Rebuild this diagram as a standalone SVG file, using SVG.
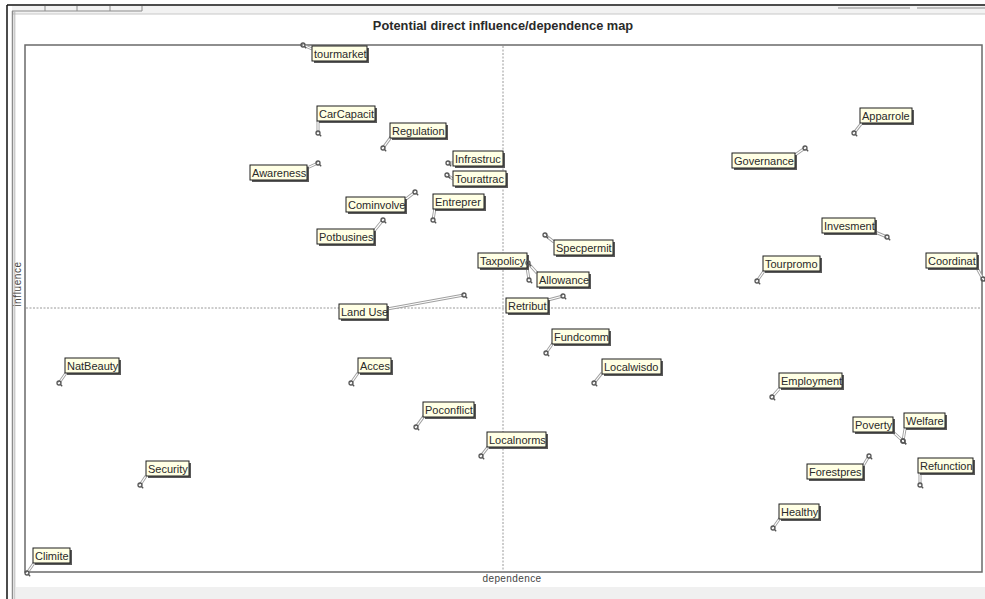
<svg xmlns="http://www.w3.org/2000/svg" xmlns:xlink="http://www.w3.org/1999/xlink" width="985" height="599" viewBox="0 0 985 599">
<style>
.lbl{font-family:"Liberation Sans",Arial,sans-serif;font-size:11px;fill:#2a2a2a}
.box{fill:#ffffe4;stroke:#1e1e1e;stroke-width:1}
.sh{fill:#5a5a5a}
.ld{stroke:#a0a0a0;stroke-width:3;fill:none}
.ldw{stroke:#ffffff;stroke-width:1.2;fill:none}
.ax{stroke:#9a9a9a;stroke-width:1;stroke-dasharray:2,1.5}
.mk{fill:none;stroke:#555;stroke-width:1.3}
</style>
<defs>
<g id="m"><circle cx="0" cy="0" r="2" class="mk"/><line x1="1.5" y1="1.5" x2="3.2" y2="3.2" class="mk"/></g>
</defs>
<rect width="985" height="599" fill="#ffffff"/>
<!-- window chrome -->
<g id="chrome">
<line x1="7" y1="5" x2="985" y2="5" stroke="#111" stroke-width="1.5"/>
<line x1="7" y1="5" x2="7" y2="599" stroke="#111" stroke-width="1.5"/>
<rect x="12" y="6" width="973" height="8" fill="#f2f2f2"/>
<line x1="12" y1="14" x2="985" y2="14" stroke="#c8c8c8" stroke-width="1"/>
<line x1="12" y1="11" x2="142" y2="11" stroke="#8c8c8c" stroke-width="1.2"/>
<line x1="45" y1="6" x2="45" y2="11" stroke="#8c8c8c"/>
<line x1="77" y1="6" x2="77" y2="11" stroke="#8c8c8c"/>
<line x1="110" y1="6" x2="110" y2="11" stroke="#8c8c8c"/>
<line x1="142" y1="6" x2="142" y2="11" stroke="#8c8c8c"/>
<line x1="838" y1="8" x2="910" y2="8" stroke="#8c8c8c" stroke-width="1.2"/>
<line x1="917" y1="8" x2="985" y2="8" stroke="#8c8c8c" stroke-width="1.2"/>
<line x1="12.5" y1="11" x2="12.5" y2="599" stroke="#8c8c8c" stroke-width="1.5"/>
<line x1="14.8" y1="11" x2="14.8" y2="599" stroke="#b5b5b5" stroke-width="1"/>
<rect x="16" y="587" width="969" height="12" fill="#f0f0f0"/>
</g>
<g id="plot">
<rect x="25" y="45" width="957" height="527" fill="#ffffff" stroke="#6a6a6a" stroke-width="1.5"/>
<line x1="503" y1="46" x2="503" y2="571" class="ax"/>
<line x1="26" y1="308" x2="981" y2="308" class="ax"/>
<text x="503" y="30" text-anchor="middle" font-family="'Liberation Sans',Arial,sans-serif" font-size="12.8" font-weight="bold" fill="#2a2a2a">Potential direct influence/dependence map</text>
<text x="512" y="582" text-anchor="middle" font-family="'Liberation Sans',Arial,sans-serif" font-size="10" letter-spacing="0.4" fill="#444">dependence</text>
<text transform="translate(21,284) rotate(-90)" text-anchor="middle" font-family="'Liberation Sans',Arial,sans-serif" font-size="10" letter-spacing="0.6" fill="#444">influence</text>
</g>
<g id="connectors">
<path class="ld" d="M303,45L312,49 M318,133L318,121 M383,148L391,137 M318,163L307,168 M448,163L453,163 M447,175L453,179 M415,192L406,199 M433,220L435,208 M383,220L374,231 M805,148L795,155 M854,133L861,124 M545,235L554,242 M529,280L527,267 M528,263L537,273 M563,296L548,300 M464,295L387,309 M546,353L553,343 M594,383L602,373 M351,383L358,373 M59,383L66,373 M416,427L424,416 M481,456L488,447 M140,485L146,476 M27,573L34,563 M757,281L764,271 M887,237L875,232 M983,279L977,268 M772,397L779,389 M903,441L893,432 M903,441L905,429 M869,456L863,466 M920,485L920,472 M773,528L780,518"/>
<path class="ldw" d="M303,45L312,49 M318,133L318,121 M383,148L391,137 M318,163L307,168 M448,163L453,163 M447,175L453,179 M415,192L406,199 M433,220L435,208 M383,220L374,231 M805,148L795,155 M854,133L861,124 M545,235L554,242 M529,280L527,267 M528,263L537,273 M563,296L548,300 M464,295L387,309 M546,353L553,343 M594,383L602,373 M351,383L358,373 M59,383L66,373 M416,427L424,416 M481,456L488,447 M140,485L146,476 M27,573L34,563 M757,281L764,271 M887,237L875,232 M983,279L977,268 M772,397L779,389 M903,441L893,432 M903,441L905,429 M869,456L863,466 M920,485L920,472 M773,528L780,518"/>
</g>
<g id="n-tourmarket"><use href="#m" x="303" y="45"/><rect class="sh" x="314" y="48" width="55" height="15"/><rect class="box" x="312" y="46" width="55" height="15"/><text class="lbl" x="314" y="57.5">tourmarket</text></g>
<g id="n-carcapacit"><use href="#m" x="318" y="133"/><rect class="sh" x="319" y="108" width="58" height="15"/><rect class="box" x="317" y="106" width="58" height="15"/><text class="lbl" x="319" y="117.5">CarCapacit</text></g>
<g id="n-regulation"><use href="#m" x="383" y="148"/><rect class="sh" x="392" y="125" width="56" height="15"/><rect class="box" x="390" y="123" width="56" height="15"/><text class="lbl" x="392" y="134.5">Regulation</text></g>
<g id="n-awareness"><use href="#m" x="318" y="163"/><rect class="sh" x="252" y="167" width="57" height="15"/><rect class="box" x="250" y="165" width="57" height="15"/><text class="lbl" x="252" y="176.5">Awareness</text></g>
<g id="n-infrastruc"><use href="#m" x="448" y="163"/><rect class="sh" x="455" y="153" width="50" height="15"/><rect class="box" x="453" y="151" width="50" height="15"/><text class="lbl" x="455" y="162.5">Infrastruc</text></g>
<g id="n-tourattrac"><use href="#m" x="447" y="175"/><rect class="sh" x="455" y="173" width="53" height="15"/><rect class="box" x="453" y="171" width="53" height="15"/><text class="lbl" x="455" y="182.5">Tourattrac</text></g>
<g id="n-cominvolve"><use href="#m" x="415" y="192"/><rect class="sh" x="348" y="199" width="59" height="15"/><rect class="box" x="346" y="197" width="59" height="15"/><text class="lbl" x="348" y="208.5">Cominvolve</text></g>
<g id="n-entreprer"><use href="#m" x="433" y="220"/><rect class="sh" x="435" y="196" width="51" height="15"/><rect class="box" x="433" y="194" width="51" height="15"/><text class="lbl" x="435" y="205.5">Entreprer</text></g>
<g id="n-potbusines"><use href="#m" x="383" y="220"/><rect class="sh" x="319" y="231" width="57" height="15"/><rect class="box" x="317" y="229" width="57" height="15"/><text class="lbl" x="319" y="240.5">Potbusines</text></g>
<g id="n-governance"><use href="#m" x="805" y="148"/><rect class="sh" x="734" y="155" width="63" height="15"/><rect class="box" x="732" y="153" width="63" height="15"/><text class="lbl" x="734" y="164.5">Governance</text></g>
<g id="n-apparrole"><use href="#m" x="854" y="133"/><rect class="sh" x="862" y="110" width="52" height="15"/><rect class="box" x="860" y="108" width="52" height="15"/><text class="lbl" x="862" y="119.5">Apparrole</text></g>
<g id="n-specpermit"><use href="#m" x="545" y="235"/><rect class="sh" x="556" y="242" width="59" height="15"/><rect class="box" x="554" y="240" width="59" height="15"/><text class="lbl" x="556" y="251.5">Specpermit</text></g>
<g id="n-taxpolicy"><use href="#m" x="529" y="280"/><rect class="sh" x="480" y="255" width="49" height="15"/><rect class="box" x="478" y="253" width="49" height="15"/><text class="lbl" x="480" y="264.5">Taxpolicy</text></g>
<g id="n-allowance"><use href="#m" x="528" y="263"/><rect class="sh" x="539" y="274" width="52" height="15"/><rect class="box" x="537" y="272" width="52" height="15"/><text class="lbl" x="539" y="283.5">Allowance</text></g>
<g id="n-retribut"><use href="#m" x="563" y="296"/><rect class="sh" x="508" y="300" width="42" height="15"/><rect class="box" x="506" y="298" width="42" height="15"/><text class="lbl" x="508" y="309.5">Retribut</text></g>
<g id="n-landuse"><use href="#m" x="464" y="295"/><rect class="sh" x="341" y="306" width="48" height="15"/><rect class="box" x="339" y="304" width="48" height="15"/><text class="lbl" x="341" y="315.5">Land Use</text></g>
<g id="n-fundcomm"><use href="#m" x="546" y="353"/><rect class="sh" x="554" y="331" width="57" height="15"/><rect class="box" x="552" y="329" width="57" height="15"/><text class="lbl" x="554" y="340.5">Fundcomm</text></g>
<g id="n-localwisdo"><use href="#m" x="594" y="383"/><rect class="sh" x="604" y="361" width="59" height="15"/><rect class="box" x="602" y="359" width="59" height="15"/><text class="lbl" x="604" y="370.5">Localwisdo</text></g>
<g id="n-acces"><use href="#m" x="351" y="383"/><rect class="sh" x="360" y="360" width="33" height="15"/><rect class="box" x="358" y="358" width="33" height="15"/><text class="lbl" x="360" y="369.5">Acces</text></g>
<g id="n-natbeauty"><use href="#m" x="59" y="383"/><rect class="sh" x="67" y="360" width="54" height="15"/><rect class="box" x="65" y="358" width="54" height="15"/><text class="lbl" x="67" y="369.5">NatBeauty</text></g>
<g id="n-poconflict"><use href="#m" x="416" y="427"/><rect class="sh" x="425" y="404" width="51" height="15"/><rect class="box" x="423" y="402" width="51" height="15"/><text class="lbl" x="425" y="413.5">Poconflict</text></g>
<g id="n-localnorms"><use href="#m" x="481" y="456"/><rect class="sh" x="489" y="434" width="59" height="15"/><rect class="box" x="487" y="432" width="59" height="15"/><text class="lbl" x="489" y="443.5">Localnorms</text></g>
<g id="n-security"><use href="#m" x="140" y="485"/><rect class="sh" x="148" y="463" width="43" height="15"/><rect class="box" x="146" y="461" width="43" height="15"/><text class="lbl" x="148" y="472.5">Security</text></g>
<g id="n-climite"><use href="#m" x="27" y="573"/><rect class="sh" x="35" y="550" width="37" height="15"/><rect class="box" x="33" y="548" width="37" height="15"/><text class="lbl" x="35" y="559.5">Climite</text></g>
<g id="n-tourpromo"><use href="#m" x="757" y="281"/><rect class="sh" x="765" y="258" width="57" height="15"/><rect class="box" x="763" y="256" width="57" height="15"/><text class="lbl" x="765" y="267.5">Tourpromo</text></g>
<g id="n-invesment"><use href="#m" x="887" y="237"/><rect class="sh" x="824" y="220" width="53" height="15"/><rect class="box" x="822" y="218" width="53" height="15"/><text class="lbl" x="824" y="229.5">Invesment</text></g>
<g id="n-coordinat"><use href="#m" x="983" y="279"/><rect class="sh" x="928" y="255" width="51" height="15"/><rect class="box" x="926" y="253" width="51" height="15"/><text class="lbl" x="928" y="264.5">Coordinat</text></g>
<g id="n-employment"><use href="#m" x="772" y="397"/><rect class="sh" x="781" y="375" width="63" height="15"/><rect class="box" x="779" y="373" width="63" height="15"/><text class="lbl" x="781" y="384.5">Employment</text></g>
<g id="n-poverty"><use href="#m" x="903" y="441"/><rect class="sh" x="855" y="419" width="40" height="15"/><rect class="box" x="853" y="417" width="40" height="15"/><text class="lbl" x="855" y="428.5">Poverty</text></g>
<g id="n-welfare"><use href="#m" x="903" y="441"/><rect class="sh" x="906" y="415" width="41" height="15"/><rect class="box" x="904" y="413" width="41" height="15"/><text class="lbl" x="906" y="424.5">Welfare</text></g>
<g id="n-forestpres"><use href="#m" x="869" y="456"/><rect class="sh" x="809" y="466" width="56" height="15"/><rect class="box" x="807" y="464" width="56" height="15"/><text class="lbl" x="809" y="475.5">Forestpres</text></g>
<g id="n-refunction"><use href="#m" x="920" y="485"/><rect class="sh" x="920" y="460" width="55" height="15"/><rect class="box" x="918" y="458" width="55" height="15"/><text class="lbl" x="920" y="469.5">Refunction</text></g>
<g id="n-healthy"><use href="#m" x="773" y="528"/><rect class="sh" x="781" y="506" width="40" height="15"/><rect class="box" x="779" y="504" width="40" height="15"/><text class="lbl" x="781" y="515.5">Healthy</text></g>
</svg>
